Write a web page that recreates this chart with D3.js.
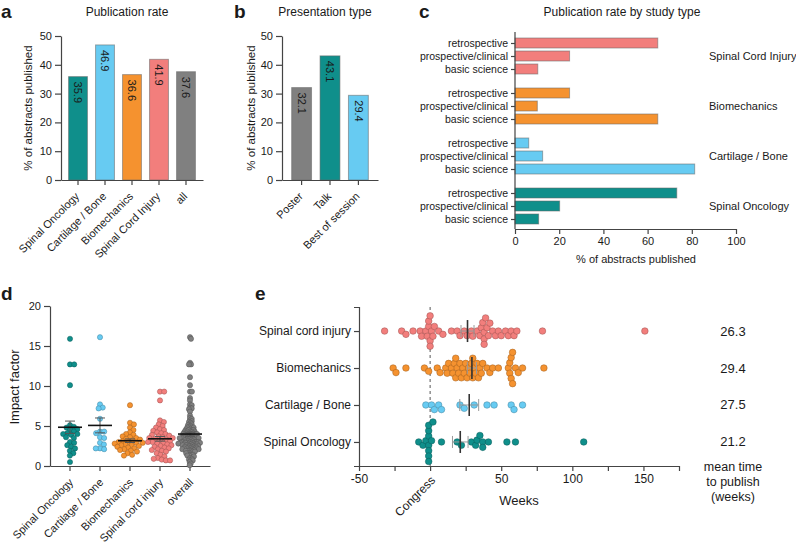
<!DOCTYPE html>
<meta charset="utf-8">
<style>
body { margin: 0; background: #fff; }
svg text { font-family: "Liberation Sans", Arial, Helvetica, sans-serif; fill: #1a1a1a; }
.axis path, .axis line { stroke: #444; stroke-width: 1.2px; }
.axis text { font-size: 11px; }
.letter { font-weight: bold; font-size: 19px; }
.title { font-size: 12px; }
</style>
<svg width="796" height="547"></svg>
<script src="https://d3js.org/d3.v7.min.js"></script>
<script>

// ---- data ----
var catsA = ["Spinal Oncology", "Cartilage / Bone", "Biomechanics", "Spinal Cord Injury", "all"];
var rateA = [35.9, 46.9, 36.6, 41.9, 37.6];

var catsB = ["Poster", "Talk", "Best of session"];
var rateB = [32.1, 43.1, 29.4];

var groupsC = ["Spinal Cord Injury", "Biomechanics", "Cartilage / Bone", "Spinal Oncology"];
var studyTypes = ["retrospective", "prospective/clinical", "basic science"];
var rateSCI = [64.6, 24.7, 10.3];
var rateBM = [24.7, 10.1, 64.6];
var rateCB = [6.2, 12.5, 81.3];
var rateSO = [73.2, 20.2, 10.7];

var impactCats = ["Spinal Oncology", "Cartilage / Bone", "Biomechanics", "Spinal cord injury", "overall"];
var impactSO = [15.9, 12.7, 12.7, 10.1, 5.1, 4.9, 4.8, 4.6, 4.5, 4.3, 4.1, 4.0, 4.0, 3.9, 3.6, 3.5, 3.0, 2.9, 2.6, 2.4, 2.2, 1.9, 1.6, 1.3, 0.5];
var impactCB = [16.1, 7.7, 7.3, 7.2, 5.9, 4.3, 4.3, 4.1, 3.6, 3.5, 2.9, 2.7, 2.2, 2.2, 2.1];
var impactBM = [7.6, 5.4, 5.2, 4.8, 4.5, 4.2, 4.0, 3.9, 3.7, 3.6, 3.5, 3.4, 3.3, 3.2, 3.1, 3.0, 3.0, 2.9, 2.9, 2.8,
                2.7, 2.6, 2.6, 2.5, 2.4, 2.3, 2.2, 2.1, 2.0, 1.9, 1.8, 1.6, 1.4, 1.3];
var impactSCI = [9.3, 9.3, 8.2, 5.7, 5.5, 5.2, 5.0, 4.8, 4.6, 4.5, 4.4, 4.2, 4.1, 4.0, 3.9, 3.8, 3.7, 3.6, 3.5, 3.5,
                 3.4, 3.3, 3.2, 3.1, 3.0, 3.0, 2.9, 2.8, 2.7, 2.6, 2.5, 2.4, 2.3, 2.2, 2.1, 2.0, 1.9, 1.8, 1.6, 1.4,
                 1.2, 1.0, 0.9, 0.8, 0.7, 0.7];
// abstracts only in the overall column
var impactOther = [12.9, 11.1, 8.5, 7.1, 6.8, 6.3, 6.0, 5.6, 3.5, 3.2, 3.0, 2.8, 2.7, 2.5, 0.3, 0.1];

var weekCats = ["Spinal cord injury", "Biomechanics", "Cartilage / Bone", "Spinal Oncology"];
var weeksSCI = [-32, -20, -17, -12, -7, -6, -3, -2, -1, -1, 0, 0, 0, 1, 2, 3, 6, 9, 15, 19, 21, 24, 26, 29, 30,
                33, 35, 36, 37, 38, 38, 38, 39, 40, 41, 42, 44, 46, 48, 50, 53, 55, 57, 59, 61, 79, 151];
var weeksBM = [-26, -24, -17, -4, -1, 5, 7, 11, 12, 13, 15, 16, 17, 18, 18, 19, 20, 21, 22, 23, 24, 25, 26, 27, 28,
               29, 30, 30, 31, 32, 33, 34, 35, 36, 37, 40, 42, 44, 48, 55, 56, 56, 57, 57, 58, 58, 60, 62, 65, 80];
var weeksCB = [-3, 1, 3, 6, 8, 21, 24, 31, 40, 45, 57, 59, 65];
var weeksSO = [-8, -5, -3, -1, -1, -1, -1, -1, -1, -1, 1, 2, 8, 19, 22, 29, 32, 33, 35, 37, 37, 41, 54, 60, 108];
var meanWeeks = [26.3, 29.4, 27.5, 21.2];
var weekTicks = [-50, -25, 0, 25, 50, 75, 100, 125, 150, 175];

// ---- colours ----
var teal = "#0f8f8b", blue = "#67cbf2", orange = "#f5922f", salmon = "#f27e7c", grey = "#808080";
var colorOf = d3.scaleOrdinal()
  .domain(["spinal oncology", "cartilage / bone", "biomechanics", "spinal cord injury", "all", "overall", "poster", "talk", "best of session"])
  .range([teal, blue, orange, salmon, grey, grey, grey, teal, blue]);
function col(name) { return colorOf(name.toLowerCase()); }

var svg = d3.select("svg");
svg.append("rect").attr("width", 796).attr("height", 547).attr("fill", "#fff");

function letter(t, x, y) {
  svg.append("text").attr("class", "letter").attr("x", x).attr("y", y).text(t);
}
function title(t, x, y) {
  svg.append("text").attr("class", "title").attr("x", x).attr("y", y).attr("text-anchor", "middle").text(t);
}
function yLabel(t, x, y, size) {
  svg.append("text").attr("transform", "translate(" + x + "," + y + ") rotate(-90)")
    .attr("text-anchor", "middle").style("font-size", size + "px").text(t);
}
function slantLabels(axisG, dx, dy) {
  axisG.selectAll(".tick text")
    .attr("x", 0).attr("y", 0).attr("dy", null)
    .attr("text-anchor", "end")
    .attr("transform", "translate(" + dx + "," + dy + ") rotate(-45)");
}

// simple beeswarm: offsets perpendicular to the value axis
function swarm(values, scale, gap) {
  var pts = values.map(function(v) { return {v: v, p: scale(v), o: 0}; })
    .sort(function(a, b) { return a.p - b.p; });
  var placed = [];
  pts.forEach(function(pt) {
    var cands = [0];
    placed.forEach(function(q) {
      var dp = pt.p - q.p;
      if (Math.abs(dp) < gap) {
        var d = Math.sqrt(gap * gap - dp * dp);
        cands.push(q.o + d, q.o - d);
      }
    });
    cands.sort(function(a, b) { return Math.abs(a) - Math.abs(b); });
    for (var k = 0; k < cands.length; k++) {
      var c = cands[k];
      var ok = placed.every(function(q) {
        var dp = pt.p - q.p, dq = c - q.o;
        return dp * dp + dq * dq >= gap * gap - 0.01;
      });
      if (ok) { pt.o = c; break; }
    }
    placed.push(pt);
  });
  return pts;
}
function sem(vals) { return d3.deviation(vals) / Math.sqrt(vals.length); }

// ---- panels a and b: vertical bars ----
function barPanel(cats, vals, x0, x1, padOuter) {
  var x = d3.scaleBand().domain(cats).range([x0, x1]).paddingInner(0.3).paddingOuter(padOuter);
  var y = d3.scaleLinear().domain([0, 50]).range([180, 36]);
  var g = svg.append("g");

  g.selectAll("rect").data(cats).join("rect")
    .attr("x", function(d) { return x(d); })
    .attr("width", x.bandwidth())
    .attr("y", function(d, i) { return y(vals[i]); })
    .attr("height", function(d, i) { return y(0) - y(vals[i]); })
    .attr("fill", function(d) { return col(d); })
    .attr("stroke", "#666").attr("stroke-opacity", 0.55).attr("stroke-width", 1);

  g.selectAll(".val").data(cats).join("text")
    .attr("class", "val")
    .attr("transform", function(d, i) {
      return "translate(" + (x(d) + x.bandwidth() / 2) + "," + (y(vals[i]) + 5) + ") rotate(90)";
    })
    .attr("dy", "0.35em")
    .style("font-size", "11px")
    .text(function(d, i) { return vals[i].toFixed(1); });

  g.append("g").attr("class", "axis")
    .attr("transform", "translate(" + x0 + ",0)")
    .call(d3.axisLeft(y).tickValues([0, 10, 20, 30, 40, 50]).tickSize(6).tickPadding(3).tickSizeOuter(0));

  var xa = g.append("g").attr("class", "axis")
    .attr("transform", "translate(0," + y(0) + ")")
    .call(d3.axisBottom(x).tickSize(5).tickSizeOuter(0));
  slantLabels(xa, 2, 17);
}

letter("a", 1, 18);
title("Publication rate", 127, 16);
barPanel(catsA, rateA, 61, 203, 0.28);
yLabel("% of abstracts published", 32, 108, 11.5);

letter("b", 234, 18);
title("Presentation type", 325, 16);
barPanel(catsB, rateB, 282, 378, 0.34);
yLabel("% of abstracts published", 255, 108, 11.5);

// ---- panel c: horizontal bars by study type ----
letter("c", 419, 18);
title("Publication rate by study type", 622, 16);

var xC = d3.scaleLinear().domain([0, 100]).range([515, 736]);
var gC = d3.scalePoint().domain(groupsC).range([56, 206]);
var tC = d3.scalePoint().domain(studyTypes).range([-13, 13]);
var ratesC = [rateSCI, rateBM, rateCB, rateSO];

var pc = svg.append("g");
groupsC.forEach(function(grp, i) {
  var gy = gC(grp);
  pc.append("g").selectAll("rect").data(studyTypes).join("rect")
    .attr("x", xC(0))
    .attr("y", function(t) { return gy + tC(t) - 5; })
    .attr("width", function(t, j) { return xC(ratesC[i][j]) - xC(0); })
    .attr("height", 10)
    .attr("fill", col(grp))
    .attr("stroke", "#666").attr("stroke-opacity", 0.55);

  var ax = pc.append("g").attr("class", "axis")
    .attr("transform", "translate(" + xC(0) + "," + gy + ")")
    .call(d3.axisLeft(tC).tickSize(4).tickPadding(3));
  ax.select(".domain").remove();
  ax.selectAll("text").style("font-size", "10.5px");

  pc.append("text").attr("x", 709).attr("y", gy + 4).style("font-size", "11px").text(grp);
});
pc.append("line")
  .attr("x1", xC(0)).attr("x2", xC(0)).attr("y1", 32).attr("y2", 229)
  .attr("stroke", "#444").attr("stroke-width", 1.2);
pc.append("g").attr("class", "axis")
  .attr("transform", "translate(0,229)")
  .call(d3.axisBottom(xC).tickValues([0, 20, 40, 60, 80, 100]).tickSize(5).tickSizeOuter(0));
pc.append("text").attr("x", 636).attr("y", 263).attr("text-anchor", "middle")
  .style("font-size", "11px").text("% of abstracts published");

// ---- panel d: impact factor scatter ----
letter("d", 1, 300);
var yD = d3.scaleLinear().domain([0, 20]).range([466, 306]);
var xD = d3.scaleBand().domain(impactCats).range([50, 210]).paddingOuter(1 / 6);
var impactOverall = [].concat(impactSO, impactCB, impactBM, impactSCI, impactOther);
var impactSeries = [impactSO, impactCB, impactBM, impactSCI, impactOverall];

var pd = svg.append("g");
pd.append("g").attr("class", "axis")
  .attr("transform", "translate(50,0)")
  .call(d3.axisLeft(yD).tickValues([0, 5, 10, 15, 20]).tickSize(6).tickPadding(3).tickSizeOuter(0));
var xaD = pd.append("g").attr("class", "axis")
  .attr("transform", "translate(0,466)")
  .call(d3.axisBottom(xD).tickSize(5).tickSizeOuter(0));
slantLabels(xaD, 4, 17);
yLabel("Impact factor", 19, 387, 13);

impactCats.forEach(function(cat, i) {
  var vals = impactSeries[i];
  var cx = xD(cat) + xD.bandwidth() / 2;
  var gap = i === 4 ? 1.9 : 4.2;
  var c = col(cat);
  pd.append("g").selectAll("circle").data(swarm(vals, yD, gap)).join("circle")
    .attr("cx", function(d) { return cx + d.o; })
    .attr("cy", function(d) { return d.p; })
    .attr("r", 2.6)
    .attr("fill", c)
    .attr("stroke", d3.color(c).darker(1.2)).attr("stroke-width", 0.5);

  var m = d3.mean(vals), s = sem(vals);
  var eb = pd.append("g").attr("stroke", "#555").attr("stroke-width", 1);
  eb.append("line").attr("x1", cx).attr("x2", cx).attr("y1", yD(m - s)).attr("y2", yD(m + s));
  eb.append("line").attr("x1", cx - 5).attr("x2", cx + 5).attr("y1", yD(m + s)).attr("y2", yD(m + s));
  eb.append("line").attr("x1", cx - 5).attr("x2", cx + 5).attr("y1", yD(m - s)).attr("y2", yD(m - s));
  pd.append("line").attr("x1", cx - 12).attr("x2", cx + 12).attr("y1", yD(m)).attr("y2", yD(m))
    .attr("stroke", "#111").attr("stroke-width", 1.6);
});

// ---- panel e: time to publication ----
letter("e", 255, 300);
var xE = d3.scaleLinear().domain([-50, 175]).range([359, 679]);
var yE = d3.scalePoint().domain(weekCats).range([307, 466]).padding(0.65);
var weekSeries = [weeksSCI, weeksBM, weeksCB, weeksSO];

var pe = svg.append("g");
var yaE = pe.append("g").attr("class", "axis")
  .attr("transform", "translate(359,0)")
  .call(d3.axisLeft(yE).tickSize(5).tickPadding(3));
yaE.selectAll("text").style("font-size", "12px");
var xaE = pe.append("g").attr("class", "axis")
  .attr("transform", "translate(0,466)")
  .call(d3.axisBottom(xE).tickValues(weekTicks).tickSize(5).tickSizeOuter(0)
    .tickFormat(function(d) { return [-50, 50, 100, 150].indexOf(d) >= 0 ? d : ""; }));
xaE.selectAll("text").style("font-size", "12px");
pe.append("text")
  .attr("transform", "translate(" + (xE(0) + 6) + ",481) rotate(-45)")
  .attr("text-anchor", "end").style("font-size", "12px").text("Congress");
pe.append("line")
  .attr("x1", xE(0)).attr("x2", xE(0)).attr("y1", 307).attr("y2", 466)
  .attr("stroke", "#555").attr("stroke-width", 1).attr("stroke-dasharray", "3,3");
pe.append("text").attr("x", 519).attr("y", 505).attr("text-anchor", "middle")
  .style("font-size", "13px").text("Weeks");

weekCats.forEach(function(cat, i) {
  var vals = weekSeries[i];
  var cy = yE(cat);
  var c = col(cat);
  pe.append("g").selectAll("circle").data(swarm(vals, xE, 5.4)).join("circle")
    .attr("cx", function(d) { return d.p; })
    .attr("cy", function(d) { return cy + d.o; })
    .attr("r", 3.3)
    .attr("fill", c)
    .attr("stroke", d3.color(c).darker(1.2)).attr("stroke-width", 0.5);

  var m = meanWeeks[i], s = sem(vals);
  var eb = pe.append("g").attr("stroke", "#999").attr("stroke-width", 1);
  eb.append("line").attr("x1", xE(m - s)).attr("x2", xE(m + s)).attr("y1", cy).attr("y2", cy);
  eb.append("line").attr("x1", xE(m - s)).attr("x2", xE(m - s)).attr("y1", cy - 6).attr("y2", cy + 6);
  eb.append("line").attr("x1", xE(m + s)).attr("x2", xE(m + s)).attr("y1", cy - 6).attr("y2", cy + 6);
  pe.append("line").attr("x1", xE(m)).attr("x2", xE(m)).attr("y1", cy - 11).attr("y2", cy + 11)
    .attr("stroke", "#333").attr("stroke-width", 1.6);

  pe.append("text").attr("x", 733).attr("y", cy + 4.5).attr("text-anchor", "middle")
    .style("font-size", "13px").text(m.toFixed(1));
});
pe.append("text").attr("text-anchor", "middle").style("font-size", "12.5px")
  .selectAll("tspan").data(["mean time", "to publish", "(weeks)"]).join("tspan")
  .attr("x", 733).attr("y", function(d, i) { return 471 + i * 15; })
  .text(function(d) { return d; });

</script>
